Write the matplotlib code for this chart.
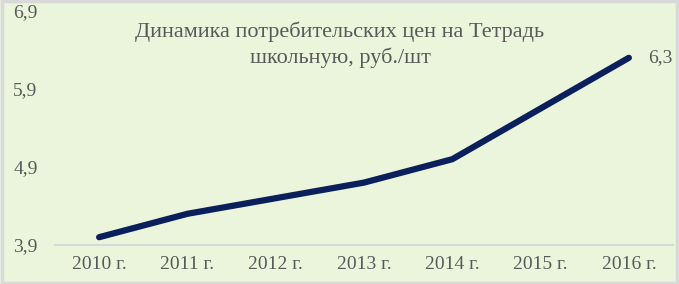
import matplotlib.pyplot as plt

# data
years = ["2010 г.", "2011 г.", "2012 г.", "2013 г.", "2014 г.", "2015 г.", "2016 г."]
prices = [4.0, 4.3, 4.5, 4.7, 5.0, 5.65, 6.3]
y_ticks = [3.9, 4.9, 5.9, 6.9]
y_tick_labels = ["3,9", "4,9", "5,9", "6,9"]
title = "Динамика потребительских цен на Тетрадь\nшкольную, руб./шт"

bg = "#ebf5dc"
text_color = "#595959"
line_color = "#0a1f5c"

plt.rcParams["font.family"] = ["Liberation Serif", "DejaVu Serif"]

fig = plt.figure(figsize=(6.79, 2.84), dpi=100, facecolor=bg)
# grey frame round the whole chart
fig.patches.append(plt.Rectangle((0.003, 0.005), 0.994, 0.99, transform=fig.transFigure,
                                 fill=False, edgecolor="#d9d9d9", linewidth=2.5))

ax = fig.add_axes([55 / 679, 1 - 245 / 284, 618 / 679, 234 / 284])
ax.set_facecolor(bg)

x = list(range(len(years)))
ax.plot(x, prices, color=line_color, linewidth=4.5, solid_capstyle="round", solid_joinstyle="round")

# label on the last point
ax.annotate("6,3", (x[-1], prices[-1]), xytext=(14, 0), textcoords="offset points",
            fontsize=14, color=text_color, va="center", ha="left")

ax.set_xlim(-0.5, len(years) - 0.5)
ax.set_ylim(3.9, 6.9)
ax.set_xticks(x)
ax.set_xticklabels(years)
ax.set_yticks(y_ticks)
ax.set_yticklabels(y_tick_labels)
ax.tick_params(length=0, labelsize=14, colors=text_color)
ax.tick_params(axis="x", pad=8)
ax.tick_params(axis="y", pad=30)
for lbl in ax.get_yticklabels():
    lbl.set_horizontalalignment("left")

for side in ["top", "right", "left"]:
    ax.spines[side].set_visible(False)
ax.spines["bottom"].set_color("#d9d9d9")
ax.spines["bottom"].set_linewidth(1.5)

fig.text(340 / 679, 1 - 45 / 284, title, ha="center", va="center",
         fontsize=16, color=text_color, linespacing=1.35)

fig.savefig("out.png", dpi=100, facecolor=bg)
